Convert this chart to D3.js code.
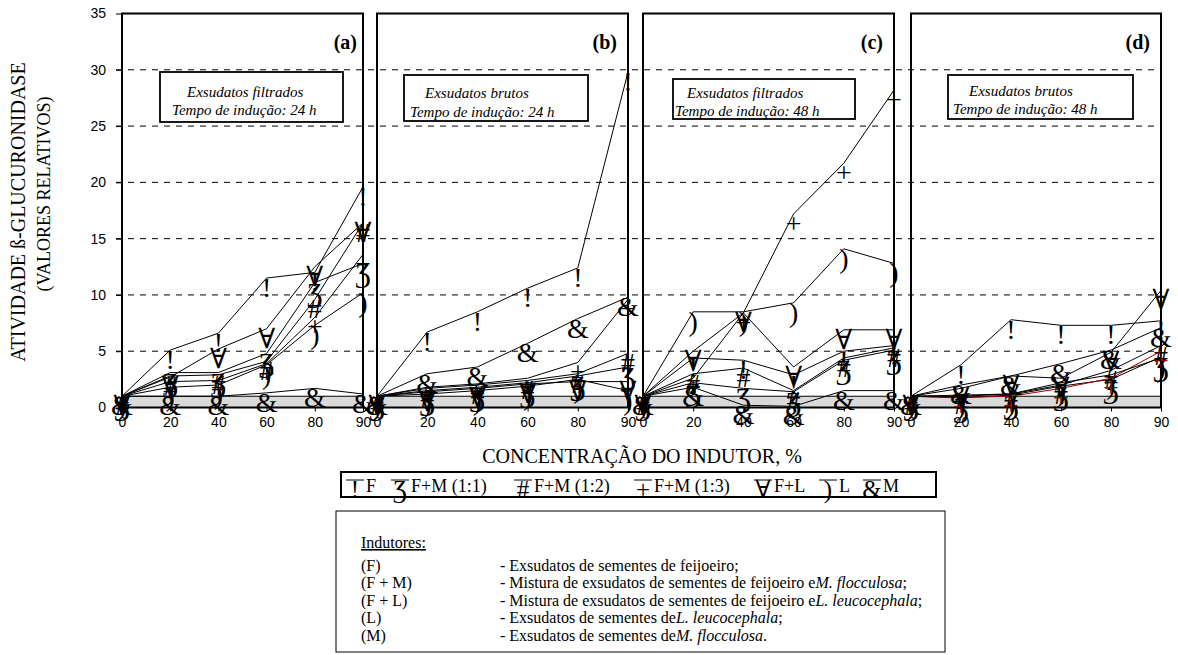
<!DOCTYPE html>
<html>
<head>
<meta charset="utf-8">
<script src="https://cdn.jsdelivr.net/npm/d3@7"></script>
<style>
  body { margin: 0; background: #fff; }
  svg text { font-family: "Liberation Serif", "Times New Roman", "DejaVu Serif", serif; fill: #000; }
  svg .tick text { font-family: "Liberation Sans", Arial, sans-serif; font-size: 14px; }
</style>
</head>
<body>
<svg id="chart" width="1178" height="655"></svg>
<script>
// Inducer concentrations (%) on the category axis of every panel
const categories = ["0", "20", "40", "60", "80", "90"];
const seriesNames = ["F", "F+M (1:1)", "F+M (1:2)", "F+M (1:3)", "F+L", "L", "M"];
const seriesSymbols = ["!", "Ʒ", "#", "+", "∀", ")", "&"];
const yTicks = [0, 5, 10, 15, 20, 25, 30, 35];
const panelLetters = ["(a)", "(b)", "(c)", "(d)"];
const panelNoteTitles = ["Exsudatos filtrados", "Exsudatos brutos", "Exsudatos filtrados", "Exsudatos brutos"];
const panelNoteTimes = ["Tempo de indução: 24 h", "Tempo de indução: 24 h", "Tempo de indução: 48 h", "Tempo de indução: 48 h"];

// Relative β-glucuronidase activity, one row per series (order of seriesNames)
const valuesA = [
  [1, 5.1, 6.6, 11.5, 12.0, 19.6],
  [1, 3.1, 3.1, 4.8, 11.1, 12.8],
  [1, 2.8, 2.9, 4.1, 9.6, 16.4],
  [1, 2.3, 2.4, 3.9, 8.0, 13.6],
  [1, 2.7, 5.2, 7.0, 12.5, 16.4],
  [1, 1.8, 2.0, 3.8, 7.3, 10.2],
  [1, 1.0, 1.0, 1.3, 1.7, 1.2]
];
const valuesB = [
  [1, 6.7, 8.5, 10.6, 12.4, 29.8],
  [1, 1.5, 1.8, 2.2, 2.8, 3.6],
  [1, 1.7, 2.0, 2.4, 3.0, 4.8],
  [1, 1.8, 2.1, 2.6, 4.0, 9.6],
  [1, 1.4, 1.7, 2.1, 2.3, 2.3],
  [1, 1.2, 1.5, 1.9, 2.5, 1.5],
  [1, 3.0, 3.6, 5.7, 7.9, 9.8]
];
const valuesC = [
  [1, 4.4, 4.2, 2.9, 5.0, 5.5],
  [1, 2.2, 1.7, 1.4, 4.2, 5.1],
  [1, 3.0, 3.5, 1.5, 4.4, 5.3],
  [1, 2.6, 8.4, 17.2, 21.7, 28.2],
  [1, 5.0, 8.4, 3.6, 6.9, 6.9],
  [1, 8.5, 8.5, 9.3, 14.1, 12.8],
  [1, 1.8, 0.2, 0.1, 1.5, 1.5]
];
const valuesD = [
  [1, 3.8, 7.8, 7.3, 7.3, 7.7],
  [1, 0.85, 1.1, 1.9, 2.5, 4.5],
  [1, 1.1, 1.2, 2.0, 3.3, 5.5],
  [1, 0.9, 1.0, 1.7, 2.6, 5.0],
  [1, 1.7, 2.8, 2.6, 4.9, 10.4],
  [1, 1.0, 1.2, 2.2, 2.9, 4.4],
  [1, 2.0, 2.8, 3.9, 5.1, 7.1]
];
const panelValues = [valuesA, valuesB, valuesC, valuesD];

// Description table below the legend
const inducerCodes = ["(F)", "(F + M)", "(F + L)", "(L)", "(M)"];
const inducerTexts = [
  ["- Exsudatos de sementes de feijoeiro;", "", ""],
  ["- Mistura de exsudatos de sementes de feijoeiro e", "M. flocculosa", ";"],
  ["- Mistura de exsudatos de sementes de feijoeiro e", "L. leucocephala", ";"],
  ["- Exsudatos de sementes de", "L. leucocephala", ";"],
  ["- Exsudatos de sementes de", "M. flocculosa", "."]
];

const SERIF = '"Liberation Serif", "Times New Roman", "DejaVu Serif", serif';
const svg = d3.select("#chart");
svg.append("rect").attr("width", 1178).attr("height", 655).attr("fill", "#fff");

const plotTop = 13.5, plotBottom = 407.5;
const y = d3.scaleLinear().domain([0, 35]).range([plotBottom, plotTop]);
const panelBounds = [[122, 363], [377, 628], [643, 894], [911, 1161]];
const noteBoxes = [
  { x: 160, y: 72, w: 183, h: 50, t1: 187, t2: 172, b1: 97, b2: 115 },
  { x: 404, y: 75, w: 184, h: 46, t1: 425, t2: 410, b1: 98, b2: 117 },
  { x: 673, y: 79, w: 182, h: 40, t1: 687, t2: 675, b1: 98, b2: 116 },
  { x: 948, y: 75, w: 185, h: 44, t1: 969, t2: 953, b1: 96, b2: 114 }
];
const letterRight = [357, 617, 883, 1150];

// Dashed horizontal gridlines across all panels
svg.append("g").selectAll("line")
  .data(yTicks.filter(v => v > 0 && v < 35))
  .join("line")
  .attr("x1", 116).attr("x2", 1161)
  .attr("y1", d => y(d)).attr("y2", d => y(d))
  .attr("stroke", "#000").attr("stroke-width", 1)
  .attr("stroke-dasharray", "6,6");

// Left value axis
const yAxis = svg.append("g")
  .attr("transform", `translate(${panelBounds[0][0]},0)`)
  .call(d3.axisLeft(y).tickValues(yTicks).tickSize(6).tickPadding(10));
yAxis.select(".domain").remove();
yAxis.selectAll(".tick line").attr("stroke", "#000");

panelValues.forEach((rows, p) => {
  const [x0, x1] = panelBounds[p];
  const x = d3.scalePoint().domain(categories).range([x0, x1]);
  const g = svg.append("g");

  // grey reference band between 0 and 1
  g.append("rect")
    .attr("x", x0).attr("y", y(1))
    .attr("width", x1 - x0).attr("height", y(0) - y(1))
    .attr("fill", "#d9d9d9").attr("stroke", "#000").attr("stroke-width", 1);

  // category axis
  const xa = g.append("g")
    .attr("transform", `translate(0,${plotBottom})`)
    .call(d3.axisBottom(x).tickSize(4).tickPadding(6));
  xa.select(".domain").remove();

  // panel frame
  g.append("rect")
    .attr("x", x0).attr("y", plotTop)
    .attr("width", x1 - x0).attr("height", plotBottom - plotTop)
    .attr("fill", "none").attr("stroke", "#000").attr("stroke-width", 2);

  // note box
  const nb = noteBoxes[p];
  g.append("rect")
    .attr("x", nb.x).attr("y", nb.y).attr("width", nb.w).attr("height", nb.h)
    .attr("fill", "#fff").attr("stroke", "#000").attr("stroke-width", 1.8);
  g.append("text").attr("x", nb.t1).attr("y", nb.b1)
    .style("font-family", SERIF).attr("font-size", 15).attr("font-style", "italic")
    .text(panelNoteTitles[p]);
  g.append("text").attr("x", nb.t2).attr("y", nb.b2)
    .style("font-family", SERIF).attr("font-size", 15).attr("font-style", "italic")
    .text(panelNoteTimes[p]);

  // panel letter
  g.append("text").attr("x", letterRight[p]).attr("y", 49)
    .style("font-family", SERIF)
    .attr("text-anchor", "end").attr("font-size", 20).attr("font-weight", "bold")
    .text(panelLetters[p]);

  const line = d3.line()
    .x((d, i) => x(categories[i]))
    .y(d => y(d));

  rows.forEach((vals, s) => {
    const red = (p === 3 && s === 3);
    g.append("path")
      .attr("d", line(vals))
      .attr("fill", "none").attr("stroke", red ? "#a00000" : "#000").attr("stroke-width", 1);
    // symbol hangs below its data point
    g.append("g").selectAll("text")
      .data(vals)
      .join("text")
      .attr("x", (d, i) => x(categories[i]))
      .attr("y", d => y(d) + 19)
      .attr("text-anchor", "middle")
      .style("font-family", SERIF)
      .attr("font-size", 28)
      .style("fill", red ? "#b00000" : "#000")
      .text(seriesSymbols[s]);
  });
});

// Axis titles
svg.append("text")
  .attr("transform", "translate(25,212) rotate(-90)")
  .style("font-family", SERIF)
  .attr("text-anchor", "middle").attr("font-size", 20)
  .text("ATIVIDADE ß-GLUCURONIDASE");
svg.append("text")
  .attr("transform", "translate(50,194) rotate(-90)")
  .style("font-family", SERIF)
  .attr("text-anchor", "middle").attr("font-size", 18)
  .text("(VALORES RELATIVOS)");
svg.append("text")
  .attr("x", 642).attr("y", 463)
  .style("font-family", SERIF)
  .attr("text-anchor", "middle").attr("font-size", 20)
  .text("CONCENTRAÇÃO DO INDUTOR, %");

// Legend
const legend = svg.append("g");
legend.append("rect")
  .attr("x", 341).attr("y", 472).attr("width", 595).attr("height", 25)
  .attr("fill", "#fff").attr("stroke", "#000").attr("stroke-width", 2);
const legendSymbolX = [355, 400, 523, 643, 763, 828, 872];
seriesNames.forEach((name, s) => {
  const sx = legendSymbolX[s];
  legend.append("line")
    .attr("x1", sx - 9).attr("x2", sx + 9)
    .attr("y1", 480).attr("y2", 480)
    .attr("stroke", "#000").attr("stroke-width", 1);
  legend.append("text")
    .attr("x", sx).attr("y", 498)
    .style("font-family", SERIF)
    .attr("text-anchor", "middle").attr("font-size", 25)
    .text(seriesSymbols[s]);
  legend.append("text")
    .attr("x", sx + 11).attr("y", 492)
    .style("font-family", SERIF)
    .attr("font-size", 18)
    .text(name);
});

// Inducer description table
const info = svg.append("g");
info.append("rect")
  .attr("x", 336).attr("y", 511).attr("width", 609).attr("height", 141)
  .attr("fill", "#fff").attr("stroke", "#000").attr("stroke-width", 1);
info.append("text")
  .attr("x", 361).attr("y", 548)
  .style("font-family", SERIF).attr("font-size", 16)
  .attr("text-decoration", "underline")
  .text("Indutores:");
inducerCodes.forEach((code, i) => {
  const by = 571 + i * 17.4;
  info.append("text").attr("x", 361).attr("y", by)
    .style("font-family", SERIF).attr("font-size", 16).text(code);
  const t = info.append("text").attr("x", 500).attr("y", by)
    .style("font-family", SERIF).attr("font-size", 16);
  t.append("tspan").text(inducerTexts[i][0]);
  if (inducerTexts[i][1]) t.append("tspan").attr("font-style", "italic").text(inducerTexts[i][1]);
  if (inducerTexts[i][2]) t.append("tspan").text(inducerTexts[i][2]);
});
</script>
</body>
</html>
